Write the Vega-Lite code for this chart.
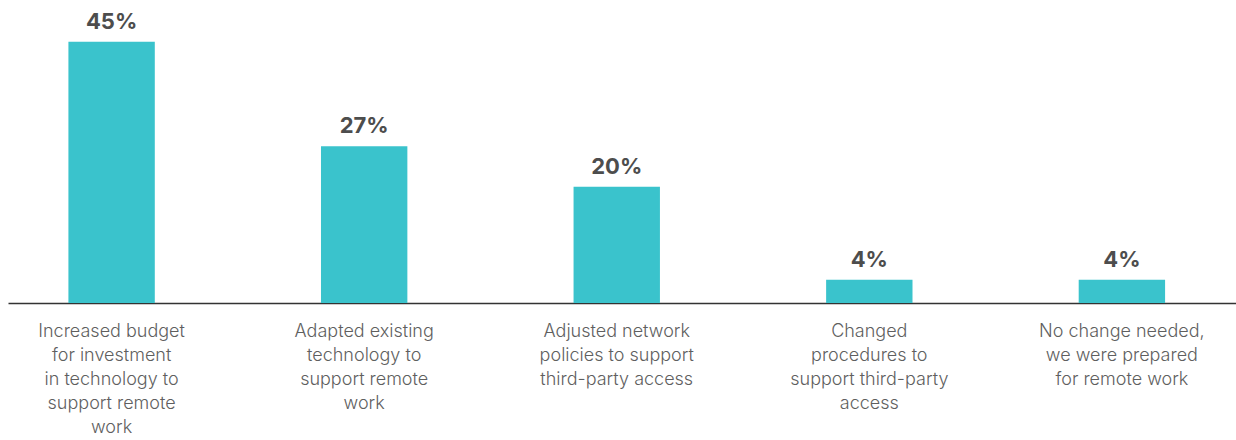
{
  "$schema": "https://vega.github.io/schema/vega-lite/v6.json",
  "width": 1228,
  "height": 303,
  "autosize": {"type": "none"},
  "padding": {"left": 8, "top": 0, "right": 0, "bottom": 137},
  "background": "white",
  "config": {"view": {"stroke": null}, "font": "Inter"},
  "data": {
    "values": [
      {"category": "Increased budget|for investment|in technology to|support remote|work", "pct": 45, "label": "45%"},
      {"category": "Adapted existing|technology to|support remote|work", "pct": 27, "label": "27%"},
      {"category": "Adjusted network|policies to support|third-party access", "pct": 20, "label": "20%"},
      {"category": "Changed|procedures to|support third-party|access", "pct": 4, "label": "4%"},
      {"category": "No change needed,|we were prepared|for remote work", "pct": 4, "label": "4%"}
    ]
  },
  "encoding": {
    "x": {
      "field": "category",
      "type": "nominal",
      "sort": null,
      "scale": {"paddingInner": 0.658, "paddingOuter": 0.26, "align": 0.46},
      "axis": {
        "title": null,
        "labelAngle": 0,
        "labelExpr": "split(datum.label, '|')",
        "labelFont": "Inter",
        "labelFontSize": 18,
        "labelFontWeight": 300,
        "labelColor": "#5f5f5f",
        "labelLineHeight": 24,
        "labelPadding": 19,
        "labelLimit": 300,
        "ticks": false,
        "domainColor": "#333333",
        "domainWidth": 1.5
      }
    },
    "y": {
      "field": "pct",
      "type": "quantitative",
      "scale": {"domain": [0, 52.18]},
      "axis": null
    }
  },
  "layer": [
    {"mark": {"type": "bar", "color": "#3ac3cc"}},
    {
      "mark": {"type": "text", "baseline": "alphabetic", "dy": -13, "font": "Inter", "fontSize": 22, "fontWeight": "bold", "color": "#4d4d4d"},
      "encoding": {"text": {"field": "label"}}
    }
  ]
}
